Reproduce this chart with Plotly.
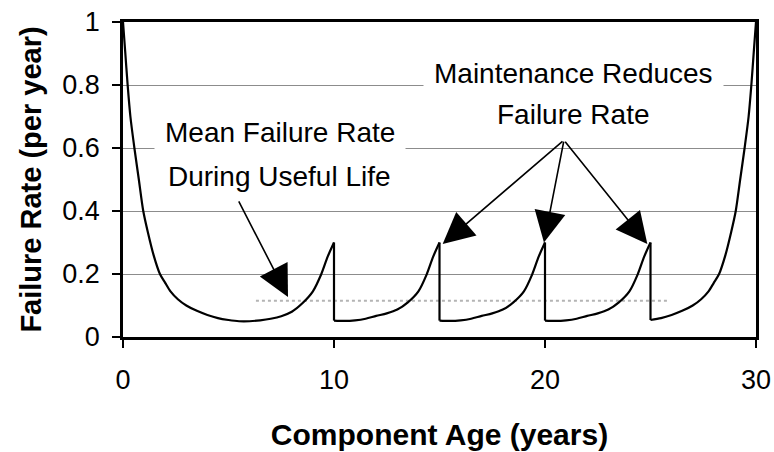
import plotly.graph_objects as go

# ---------------- data ----------------
# burn-in + first useful-life stretch (years 0-10)
seg1_x = [0, 0.1, 0.22, 0.35, 0.54, 0.75, 0.96, 1.17, 1.45, 1.75, 2.0, 2.25, 2.6, 3.0,
          3.5, 4.0, 4.5, 5.0, 5.5, 6.0, 6.5, 7.0, 7.5, 8.0, 8.5, 9.0, 9.4, 9.7, 10.0]
seg1_y = [1.0, 0.91, 0.8, 0.7, 0.6, 0.5, 0.4, 0.335, 0.26, 0.2, 0.172, 0.145, 0.12, 0.1,
          0.083, 0.07, 0.06, 0.054, 0.05, 0.05, 0.053, 0.058, 0.066, 0.08, 0.107, 0.145,
          0.2, 0.255, 0.3]
# after maintenance at year 10
seg2_x = [10.0, 10.5, 11.0, 11.5, 12.0, 12.5, 13.0, 13.5, 14.0, 14.4, 14.7, 15.0]
seg2_y = [0.052, 0.051, 0.053, 0.058, 0.067, 0.075, 0.087, 0.11, 0.145, 0.2, 0.255, 0.3]
# after maintenance at year 15
seg3_x = [15.0, 15.5, 16.0, 16.5, 17.0, 17.5, 18.0, 18.5, 19.0, 19.4, 19.7, 20.0]
seg3_y = [0.052, 0.051, 0.053, 0.058, 0.067, 0.075, 0.087, 0.11, 0.145, 0.2, 0.255, 0.3]
# after maintenance at year 20
seg4_x = [20.0, 20.5, 21.0, 21.5, 22.0, 22.5, 23.0, 23.5, 24.0, 24.4, 24.7, 25.0]
seg4_y = [0.052, 0.051, 0.053, 0.058, 0.067, 0.075, 0.087, 0.11, 0.145, 0.2, 0.255, 0.3]
# after maintenance at year 25: wear-out
seg5_x = [25.0, 25.5, 26.0, 26.5, 27.0, 27.4, 27.75, 28.0, 28.25, 28.55, 28.83, 29.04,
          29.25, 29.46, 29.65, 29.78, 29.9, 30.0]
seg5_y = [0.054, 0.06, 0.07, 0.083, 0.1, 0.12, 0.145, 0.172, 0.2, 0.26, 0.335, 0.4,
          0.5, 0.6, 0.7, 0.8, 0.91, 1.0]

maintenance_years = [10, 15, 20, 25]
peak_rate = [0.3, 0.3, 0.3, 0.3]
reset_rate = [0.052, 0.052, 0.052, 0.054]

mean_x = [6.3, 25.8]
mean_y = [0.115, 0.115]

x_ticks = [0, 10, 20, 30]
x_tick_labels = ["0", "10", "20", "30"]
y_ticks = [0, 0.2, 0.4, 0.6, 0.8, 1.0]
y_tick_labels = ["0", "0.2", "0.4", "0.6", "0.8", "1"]

# ---------------- figure ----------------
FONT = "Liberation Sans, Arial, Helvetica, sans-serif"

curve_x, curve_y = [], []
for sx, sy in [(seg1_x, seg1_y), (seg2_x, seg2_y), (seg3_x, seg3_y),
               (seg4_x, seg4_y), (seg5_x, seg5_y)]:
    curve_x += sx + [None]
    curve_y += sy + [None]

drop_x, drop_y = [], []
for yr, hi, lo in zip(maintenance_years, peak_rate, reset_rate):
    drop_x += [yr, yr, None]
    drop_y += [hi, lo, None]

fig = go.Figure()
fig.add_trace(go.Scatter(x=mean_x, y=mean_y, mode="lines",
                         line=dict(color="#b4b4b4", width=2, dash="dot"),
                         hoverinfo="skip", showlegend=False))
fig.add_trace(go.Scatter(x=curve_x, y=curve_y, mode="lines",
                         line=dict(color="black", width=2.2, shape="spline", smoothing=0.8),
                         connectgaps=False, showlegend=False))
fig.add_trace(go.Scatter(x=drop_x, y=drop_y, mode="lines",
                         line=dict(color="black", width=2.2),
                         showlegend=False))

text_font = dict(family=FONT, size=28, color="black")
for txt, tx, ty in [("Mean Failure Rate", 7.44, 0.648),
                    ("During Useful Life", 7.44, 0.508),
                    ("Maintenance Reduces", 21.33, 0.838),
                    ("Failure Rate", 21.37, 0.705)]:
    fig.add_annotation(x=tx, y=ty, xref="x", yref="y", text=txt, showarrow=False,
                       font=text_font, bgcolor="white", borderpad=10)

arrows = [((5.45, 0.435), (7.82, 0.127)),
          ((20.9, 0.625), (15.15, 0.295)),
          ((20.9, 0.625), (19.95, 0.3)),
          ((20.9, 0.625), (24.85, 0.295))]
for (tx, ty), (hx, hy) in arrows:
    fig.add_annotation(x=hx, y=hy, ax=tx, ay=ty, xref="x", yref="y",
                       axref="x", ayref="y", text="", showarrow=True,
                       arrowhead=2, arrowsize=3.9, arrowwidth=1.6, arrowcolor="black")

fig.update_xaxes(range=[0, 30], tickvals=x_ticks, ticktext=x_tick_labels,
                 showgrid=False, zeroline=False,
                 showline=True, linecolor="black", linewidth=2.5, mirror=True,
                 ticks="outside", ticklen=8, tickwidth=1.5, tickcolor="black",
                 ticklabelstandoff=9,
                 tickfont=dict(family=FONT, size=27, color="black"),
                 title=dict(text="<b>Component Age (years)</b>", standoff=30,
                            font=dict(family=FONT, size=30, color="black")))
fig.update_yaxes(range=[0, 1], tickvals=y_ticks, ticktext=y_tick_labels,
                 showgrid=True, gridcolor="#8c8c8c", gridwidth=1, zeroline=False,
                 showline=True, linecolor="black", linewidth=2.5, mirror=True,
                 ticks="outside", ticklen=8, tickwidth=1.5, tickcolor="black",
                 ticklabelstandoff=7,
                 tickfont=dict(family=FONT, size=27, color="black"),
                 title=dict(text="<b>Failure Rate (per year)</b>", standoff=13,
                            font=dict(family=FONT, size=29, color="black")))

fig.update_layout(width=774, height=452,
                  margin=dict(l=123, r=18, t=22, b=115, autoexpand=False),
                  paper_bgcolor="white", plot_bgcolor="white",
                  showlegend=False)

fig.write_html("out.html", config={"displayModeBar": False},
               post_script="document.body.style.margin='0px';"
                           "document.body.style.overflow='hidden';")
